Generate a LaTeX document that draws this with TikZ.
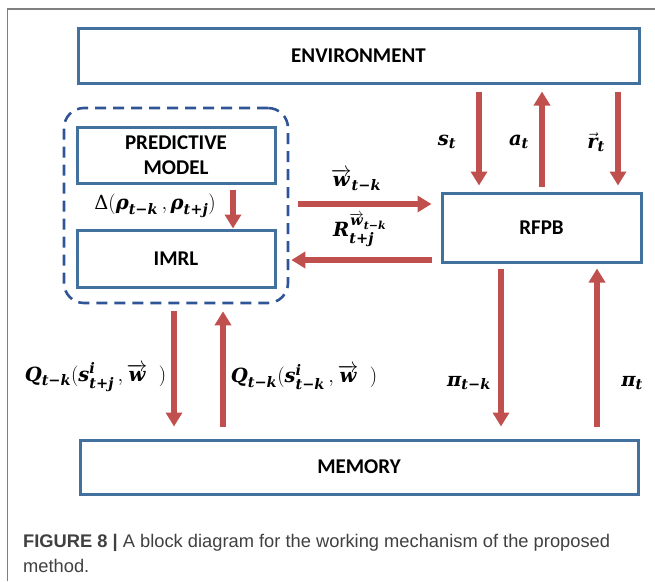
\documentclass[tikz,border=0pt]{standalone}
\usepackage{amsmath}
\usepackage{fontspec}
\setmainfont{Carlito}
\newfontfamily\capfont{Liberation Sans}
\newfontfamily\symfont{DejaVu Serif}
\usetikzlibrary{arrows.meta}

% formula labels: large subscripts
\DeclareMathSizes{19.5}{19.5}{14.5}{11}

% bold italic serif letters used in the formula labels
\newcommand{\mv}[1]{\text{\symfont\bfseries\itshape #1}}

\definecolor{boxblue}{HTML}{41719C}
\definecolor{dashblue}{HTML}{2F5597}
\definecolor{arrowred}{HTML}{C0504D}
\definecolor{framegray}{HTML}{808080}
\definecolor{capgray}{HTML}{404040}

\tikzset{
  block/.style={draw=boxblue, line width=3pt, fill=white, inner sep=0pt,
    font=\fontsize{21}{26}\selectfont\bfseries, align=center},
  group/.style={draw=dashblue, line width=2.6pt, dash pattern=on 11pt off 7pt,
    rounded corners=20pt, inner sep=0pt},
  flow/.style={draw=arrowred, line width=6pt,
    -{Triangle[width=16pt,length=14pt]}},
  lbl/.style={font=\fontsize{19.5}{24}\selectfont, inner sep=0pt},
  captext/.style={font=\capfont\fontsize{18.3}{22}\selectfont, text=capgray,
    inner sep=0pt, anchor=base west}
}

\begin{document}
\begin{tikzpicture}[x=1pt, y=-1pt]
  \useasboundingbox (0,0) rectangle (655,581);

  % outer frame (top and left rules)
  \draw[framegray, line width=1.5pt] (655,9) -- (7.5,9) -- (7.5,581);

  % blocks
  \node[block, minimum width=561pt, minimum height=55pt] (env) at (358.5,55.5) {ENVIRONMENT};
  \node[group, minimum width=224pt, minimum height=195pt] (grp) at (176,205.5) {};
  \node[block, minimum width=198pt, minimum height=56pt] (pm) at (176,155) {PREDICTIVE\\[-1pt]MODEL};
  \node[block, minimum width=198pt, minimum height=57pt] (imrl) at (176,258.5) {IMRL};
  \node[block, minimum width=199pt, minimum height=69pt] (rfpb) at (541.5,227.5) {RFPB};
  \node[block, minimum width=558pt, minimum height=54pt] (mem) at (359,467) {MEMORY};

  % arrow columns and rows
  \coordinate (cS)  at (479,0);
  \coordinate (cA)  at (542,0);
  \coordinate (cR)  at (618,0);
  \coordinate (cD)  at (233,0);
  \coordinate (cQd) at (174,0);
  \coordinate (cQu) at (223,0);
  \coordinate (cPk) at (501,0);
  \coordinate (cPt) at (597,0);
  \coordinate (rW)  at (0,204);
  \coordinate (rR)  at (0,260);

  % environment <-> RFPB
  \draw[flow, shorten <=7pt, shorten >=6pt] (env.south -| cS) -- (rfpb.north -| cS);
  \draw[flow, shorten <=5pt, shorten >=7pt] (rfpb.north -| cA) -- (env.south -| cA);
  \draw[flow, shorten <=7pt, shorten >=6pt] (env.south -| cR) -- (rfpb.north -| cR);

  % predictive model -> IMRL
  \draw[flow, shorten <=5pt] (pm.south -| cD) -- (imrl.north -| cD);

  % IMRL group <-> RFPB
  \draw[flow, shorten <=9pt, shorten >=9pt] (grp.east |- rW) -- (rfpb.west |- rW);
  \draw[flow, shorten <=9pt, shorten >=2pt] (rfpb.west |- rR) -- (grp.east |- rR);

  % IMRL group <-> memory
  \draw[flow, shorten <=7pt, shorten >=12pt] (grp.south -| cQd) -- (mem.north -| cQd);
  \draw[flow, shorten <=12pt, shorten >=7pt] (mem.north -| cQu) -- (grp.south -| cQu);

  % RFPB <-> memory
  \draw[flow, shorten <=5pt, shorten >=12pt] (rfpb.south -| cPk) -- (mem.north -| cPk);
  \draw[flow, shorten <=12pt, shorten >=5pt] (mem.north -| cPt) -- (rfpb.south -| cPt);

  % labels
  \node[lbl] (ls) at (447,142) {$\mv{s}_{\mv{t}}$};
  \node[lbl] (la) at (519,142) {$\mv{a}_{\mv{t}}$};
  \node[lbl] (lr) at (596,142) {$\vec{\mv{r}}_{\mv{t}}$};
  \node[lbl] (lw) at (356,180) {$\overrightarrow{\mv{w}}_{\mv{t−k}}$};
  \node[lbl] (lrw) at (360,230) {$\mv{R}^{\overrightarrow{\mv{w}}_{\mv{t−k}}}_{\mv{t+j}}$};
  \node[lbl] (ld) at (155,206) {$\text{\symfont Δ}(\mv{ρ}_{\mv{t−k}}\,,\mv{ρ}_{\mv{t+j}})$};
  \node[lbl] (lq1) at (95.5,377) {$\mv{Q}_{\mv{t−k}}(\mv{s}^{\mv{i}}_{\mv{t+j}}\,,\overrightarrow{\mv{w}}\;\;)$};
  \node[lbl] (lq2) at (304,377) {$\mv{Q}_{\mv{t−k}}(\mv{s}^{\mv{i}}_{\mv{t−k}}\,,\overrightarrow{\mv{w}}\;\;)$};
  \node[lbl] (lpk) at (469,383) {$\mv{π}_{\mv{t−k}}$};
  \node[lbl] (lpt) at (632,383) {$\mv{π}_{\mv{t}}$};

  % caption
  \node[captext] (cap1) at (23,547) {\textbf{FIGURE 8 |} A block diagram for the working mechanism of the proposed};
  \node[captext] (cap2) at (23,572) {method.};
\end{tikzpicture}
\end{document}
